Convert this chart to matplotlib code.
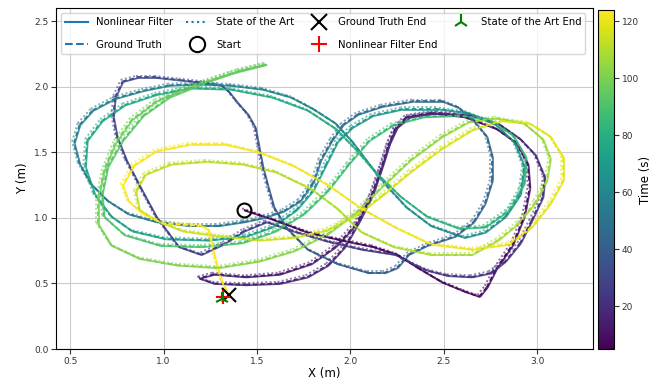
import numpy as np
import matplotlib
matplotlib.use('Agg')
import matplotlib.pyplot as plt
from matplotlib.collections import LineCollection
from matplotlib.colors import Normalize
from matplotlib.lines import Line2D

# ground truth trajectory (time in s, x and y in m)
gt_t = [5.0, 5.4, 5.9, 6.3, 6.7, 7.0, 7.3, 7.7, 8.0, 8.3,
        8.6, 8.9, 9.3, 9.7, 10.1, 10.4, 10.7, 11.0, 11.4, 11.8,
        12.1, 12.3, 12.6, 12.9, 13.2, 13.5, 13.8, 14.1, 14.4, 14.7,
        15.0, 15.3, 15.6, 16.0, 16.4, 16.7, 17.0, 17.3, 17.6, 17.9,
        18.2, 18.5, 18.8, 19.1, 19.5, 19.9, 20.3, 20.6, 20.9, 21.2,
        21.5, 21.8, 22.1, 22.4, 22.7, 23.0, 23.3, 23.6, 23.9, 24.2,
        24.6, 25.0, 25.4, 25.8, 26.2, 26.6, 27.0, 27.5, 28.0, 28.5,
        29.0, 29.5, 30.0, 30.5, 31.0, 31.5, 32.0, 32.6, 33.2, 33.7,
        34.1, 34.5, 34.9, 35.3, 35.8, 36.3, 36.8, 37.3, 37.8, 38.3,
        38.8, 39.3, 39.7, 40.1, 40.5, 41.0, 41.5, 42.0, 42.5, 43.0,
        43.5, 44.0, 44.5, 45.0, 45.5, 46.0, 46.5, 47.0, 47.5, 48.0,
        48.5, 49.0, 49.5, 50.0, 50.5, 51.0, 51.5, 52.0, 52.5, 53.0,
        53.5, 54.0, 54.5, 55.0, 55.5, 56.0, 56.5, 57.0, 57.5, 58.0,
        58.5, 59.0, 59.5, 60.0, 60.5, 61.0, 61.5, 62.0, 62.5, 63.0,
        63.5, 64.0, 64.5, 65.0, 65.5, 66.0, 66.5, 67.0, 67.5, 68.0,
        68.5, 69.0, 69.5, 70.0, 70.5, 71.0, 71.5, 72.0, 72.5, 73.0,
        73.5, 74.0, 74.5, 75.0, 75.5, 76.0, 76.5, 77.0, 77.5, 78.0,
        78.5, 79.0, 79.5, 80.0, 80.5, 81.0, 81.5, 82.0, 82.5, 83.0,
        83.5, 84.0, 84.5, 85.0, 85.5, 86.0, 86.5, 87.0, 87.5, 88.0,
        88.5, 89.0, 89.5, 90.0, 90.5, 91.0, 91.5, 92.0, 92.5, 93.0,
        93.5, 94.0, 94.5, 95.0, 95.5, 96.0, 96.5, 97.0, 97.5, 98.0,
        98.5, 99.0, 99.5, 100.0, 100.5, 101.0, 101.5, 102.0, 102.4, 102.8,
        103.2, 103.6, 104.0, 104.4, 104.8, 105.2, 105.6, 106.0, 106.4, 106.8,
        107.2, 107.6, 108.0, 108.4, 108.8, 109.2, 109.6, 110.0, 110.4, 110.8,
        111.2, 111.6, 112.0, 112.4, 112.7, 113.0, 113.3, 113.6, 114.0, 114.4,
        114.8, 115.2, 115.6, 116.0, 116.4, 116.8, 117.2, 117.6, 118.0, 118.4,
        118.8, 119.2, 119.6, 120.0, 120.4, 120.8, 121.1, 121.4, 121.7, 122.0,
        122.2, 122.4, 122.6, 122.8, 123.0, 123.1, 123.2, 123.3, 123.4, 123.5,
        123.6, 123.7, 123.8, 123.9, 124.0]
gt_x = [1.43, 1.58, 1.77, 1.95, 2.12, 2.25, 2.36, 2.49, 2.61, 2.69,
        2.73, 2.78, 2.87, 2.93, 2.96, 2.95, 2.89, 2.78, 2.61, 2.43,
        2.30, 2.24, 2.20, 2.16, 2.11, 2.03, 1.92, 1.79, 1.62, 1.44,
        1.27, 1.19, 1.27, 1.44, 1.62, 1.77, 1.88, 1.97, 2.05, 2.12,
        2.17, 2.21, 2.25, 2.32, 2.47, 2.65, 2.80, 2.91, 2.99, 3.04,
        3.03, 2.97, 2.91, 2.83, 2.75, 2.65, 2.52, 2.41, 2.32, 2.24,
        2.06, 1.88, 1.69, 1.55, 1.43, 1.32, 1.20, 1.08, 0.96, 0.88,
        0.80, 0.75, 0.73, 0.74, 0.78, 0.86, 0.96, 1.09, 1.22, 1.31,
        1.35, 1.40, 1.45, 1.49, 1.51, 1.53, 1.56, 1.59, 1.66, 1.77,
        1.93, 2.10, 2.18, 2.25, 2.31, 2.41, 2.56, 2.66, 2.72, 2.76,
        2.76, 2.73, 2.66, 2.58, 2.49, 2.34, 2.17, 2.04, 1.96, 1.90,
        1.84, 1.80, 1.73, 1.64, 1.53, 1.43, 1.29, 1.14, 0.96, 0.81,
        0.70, 0.61, 0.55, 0.52, 0.55, 0.62, 0.74, 0.89, 1.03, 1.18,
        1.36, 1.53, 1.68, 1.80, 1.92, 2.01, 2.10, 2.19, 2.30, 2.43,
        2.61, 2.72, 2.83, 2.91, 2.93, 2.88, 2.78, 2.63, 2.47, 2.28,
        2.12, 2.01, 1.93, 1.87, 1.80, 1.71, 1.58, 1.44, 1.24, 1.01,
        0.83, 0.72, 0.63, 0.58, 0.59, 0.67, 0.79, 0.96, 1.14, 1.36,
        1.58, 1.77, 1.92, 2.03, 2.14, 2.27, 2.41, 2.58, 2.72, 2.85,
        2.93, 2.94, 2.87, 2.74, 2.58, 2.39, 2.23, 2.10, 1.99, 1.88,
        1.75, 1.60, 1.42, 1.20, 0.98, 0.79, 0.68, 0.67, 0.70, 0.78,
        0.89, 1.03, 1.24, 1.40, 1.55, 1.36, 1.14, 0.96, 0.83, 0.74,
        0.68, 0.65, 0.65, 0.72, 0.87, 1.07, 1.29, 1.51, 1.70, 1.88,
        2.03, 2.17, 2.32, 2.49, 2.63, 2.78, 2.93, 3.03, 3.07, 3.05,
        2.99, 2.90, 2.79, 2.65, 2.43, 2.23, 2.06, 1.93, 1.79, 1.60,
        1.42, 1.23, 1.04, 0.90, 0.85, 0.87, 0.96, 1.10, 1.30, 1.51,
        1.70, 1.88, 2.03, 2.17, 2.32, 2.49, 2.65, 2.81, 2.96, 3.07,
        3.14, 3.14, 3.07, 2.97, 2.85, 2.65, 2.43, 2.25, 2.06, 1.88,
        1.69, 1.51, 1.33, 1.14, 0.96, 0.84, 0.78, 0.81, 0.88, 0.99,
        1.20, 1.24, 1.27, 1.31, 1.35]
gt_y = [1.06, 0.99, 0.89, 0.83, 0.78, 0.72, 0.62, 0.51, 0.44, 0.40,
        0.47, 0.61, 0.80, 1.01, 1.23, 1.41, 1.57, 1.68, 1.77, 1.80,
        1.77, 1.68, 1.54, 1.36, 1.16, 0.95, 0.78, 0.65, 0.57, 0.55,
        0.57, 0.54, 0.50, 0.49, 0.50, 0.55, 0.64, 0.78, 0.98, 1.18,
        1.39, 1.57, 1.69, 1.77, 1.80, 1.78, 1.71, 1.60, 1.48, 1.31,
        1.16, 0.98, 0.81, 0.67, 0.58, 0.55, 0.56, 0.60, 0.66, 0.72,
        0.76, 0.82, 0.90, 0.97, 0.90, 0.80, 0.72, 0.78, 1.01, 1.22,
        1.44, 1.62, 1.77, 1.92, 2.04, 2.07, 2.07, 2.05, 2.03, 2.01,
        1.96, 1.87, 1.79, 1.69, 1.54, 1.39, 1.23, 1.08, 0.92, 0.76,
        0.65, 0.58, 0.58, 0.62, 0.72, 0.79, 0.86, 0.97, 1.11, 1.29,
        1.46, 1.62, 1.74, 1.84, 1.89, 1.89, 1.85, 1.79, 1.71, 1.59,
        1.44, 1.27, 1.13, 1.05, 1.00, 0.97, 0.94, 0.94, 0.97, 1.03,
        1.13, 1.26, 1.41, 1.57, 1.71, 1.82, 1.91, 1.97, 2.01, 2.02,
        2.01, 1.98, 1.92, 1.83, 1.72, 1.58, 1.41, 1.25, 1.08, 0.94,
        0.85, 0.89, 1.01, 1.18, 1.39, 1.57, 1.71, 1.80, 1.83, 1.83,
        1.78, 1.69, 1.58, 1.41, 1.21, 1.06, 0.93, 0.86, 0.83, 0.84,
        0.90, 1.01, 1.18, 1.39, 1.59, 1.74, 1.86, 1.94, 1.99, 1.98,
        1.92, 1.82, 1.68, 1.52, 1.34, 1.16, 1.01, 0.92, 0.93, 1.06,
        1.26, 1.46, 1.63, 1.75, 1.78, 1.77, 1.71, 1.59, 1.41, 1.21,
        1.03, 0.90, 0.81, 0.78, 0.79, 0.87, 1.01, 1.18, 1.39, 1.59,
        1.78, 1.92, 2.04, 2.12, 2.17, 2.10, 2.00, 1.89, 1.75, 1.57,
        1.36, 1.16, 0.95, 0.79, 0.69, 0.64, 0.62, 0.67, 0.75, 0.88,
        1.04, 1.24, 1.44, 1.62, 1.73, 1.76, 1.72, 1.60, 1.45, 1.28,
        1.12, 0.96, 0.83, 0.72, 0.72, 0.78, 0.89, 1.07, 1.22, 1.35,
        1.41, 1.43, 1.41, 1.33, 1.20, 1.06, 0.98, 0.90, 0.86, 0.83,
        0.85, 0.91, 1.02, 1.17, 1.35, 1.53, 1.67, 1.74, 1.72, 1.62,
        1.46, 1.29, 1.11, 0.93, 0.80, 0.76, 0.80, 0.92, 1.07, 1.25,
        1.40, 1.50, 1.56, 1.56, 1.51, 1.40, 1.25, 1.13, 1.04, 0.96,
        0.94, 0.91, 0.72, 0.52, 0.41]

# small constant offsets of the two estimates from ground truth (m)
filter_bias = (0.004, -0.004)
sota_bias = (-0.010, 0.012)

start_xy = (1.43, 1.06)
gt_end = (1.35, 0.41)
filter_end = (1.32, 0.40)
sota_end = (1.31, 0.38)
time_min, time_max = 5, 124

plt.rcParams['font.family'] = 'DejaVu Sans'
fig = plt.figure(figsize=(6.54, 3.79), dpi=100)
ax = fig.add_axes([0.086, 0.079, 0.821, 0.9])
cax = fig.add_axes([0.914, 0.079, 0.025, 0.895])

norm = Normalize(vmin=time_min, vmax=time_max)
t = np.array(gt_t)


def make_lc(x, y, **kw):
    pts = np.column_stack([x, y])
    segs = np.stack([pts[:-1], pts[1:]], axis=1)
    lc = LineCollection(segs, cmap='viridis', norm=norm, **kw)
    lc.set_array((t[:-1] + t[1:]) / 2)
    return lc


gx = np.array(gt_x)
gy = np.array(gt_y)

sota_lc = make_lc(gx + sota_bias[0], gy + sota_bias[1], linestyles=(0, (1, 1.2)),
                  linewidths=1.4, alpha=0.6, zorder=2)
filt_lc = make_lc(gx + filter_bias[0], gy + filter_bias[1], linestyles='solid',
                  linewidths=1.3, alpha=0.85, zorder=3)
gt_lc = make_lc(gx, gy, linestyles=(0, (2.5, 1.5)), linewidths=1.3, zorder=4)
ax.add_collection(sota_lc)
ax.add_collection(filt_lc)
ax.add_collection(gt_lc)

ax.plot(*start_xy, 'o', mfc='none', mec='black', ms=10, mew=1.5, zorder=5)
ax.plot(*gt_end, 'x', color='black', ms=10, mew=1.5, zorder=5)
ax.plot(*filter_end, '+', color='red', ms=10, mew=1.5, zorder=5)
ax.plot(*sota_end, '2', color='green', ms=10, mew=1.5, zorder=5)

ax.set_xlim(0.425, 3.30)
ax.set_ylim(0, 2.6)
ax.grid(True, color='#cccccc', linewidth=0.8)
ax.set_axisbelow(True)
ax.tick_params(labelsize=6.5, colors='#333333', pad=2)
ax.set_xlabel('X (m)', fontsize=8.5, labelpad=1)
ax.set_ylabel('Y (m)', fontsize=8.5, labelpad=4)

c0 = '#1f77b4'
handles = [
    Line2D([], [], color=c0, ls='-', lw=1.5),
    Line2D([], [], color=c0, ls='--', lw=1.5),
    Line2D([], [], color=c0, ls=':', lw=1.5),
    Line2D([], [], ls='none', marker='o', mfc='none', mec='black', ms=11, mew=1.5),
    Line2D([], [], ls='none', marker='x', color='black', ms=11, mew=1.5),
    Line2D([], [], ls='none', marker='+', color='red', ms=11, mew=1.5),
    Line2D([], [], ls='none', marker='2', color='green', ms=11, mew=1.5),
]
labels = ['Nonlinear Filter', 'Ground Truth', 'State of the Art', 'Start',
          'Ground Truth End', 'Nonlinear Filter End', 'State of the Art End']
ax.legend(handles, labels, loc='upper left', ncol=4, fontsize=7.3,
          bbox_to_anchor=(0.0, 1.0, 0.995, 0.0), mode='expand',
          borderaxespad=0.5, columnspacing=0.9, handlelength=2.2,
          labelspacing=1.25)

sm = plt.cm.ScalarMappable(cmap='viridis', norm=norm)
cb = fig.colorbar(sm, cax=cax)
cb.ax.tick_params(labelsize=6.5, colors='#333333', pad=2)
cb.set_label('Time (s)', fontsize=8.5, labelpad=0)

fig.savefig('out.png', dpi=100)
